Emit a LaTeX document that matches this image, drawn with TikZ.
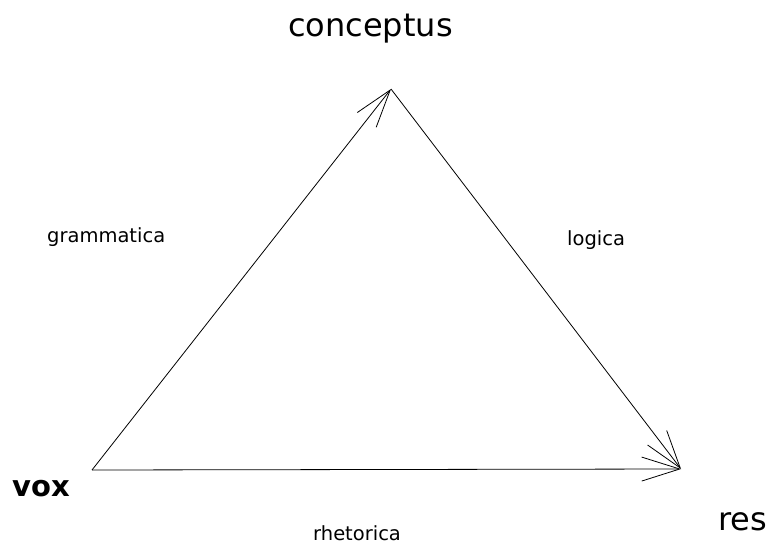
\documentclass[tikz,border=0pt]{standalone}
\usepackage{fontspec}
\setmainfont{DejaVu Sans}
\usetikzlibrary{arrows.meta}
\begin{document}
\begin{tikzpicture}[x=1pt,y=-1pt,
  big/.style={font=\fontsize{32}{36}\selectfont, inner sep=0pt, anchor=base west},
  small/.style={font=\fontsize{19.5}{22}\selectfont, inner sep=0pt, anchor=base west},
  edge/.style={line width=0.8pt, -{Straight Barb[length=38pt,width=24pt,line width=0.8pt]}}]
\useasboundingbox[fill=white] (0,0) rectangle (770,545);
\coordinate (V) at (92,470);
\coordinate (C) at (391,89);
\coordinate (R) at (681,469);
\node[big] (conceptus) at (288,37) {conceptus};
\node[big, font=\fontsize{29}{34}\selectfont\bfseries] (vox) at (12,496) {vox};
\node[big] (res) at (718,530) {res};
\node[small] (grammatica) at (47,242) {grammatica};
\node[small] (logica) at (567,245) {logica};
\node[small] (rhetorica) at (313,540) {rhetorica};
\draw[edge] (V) -- (C);
\draw[edge] (C) -- (R);
\draw[edge] (V) -- (R);
\end{tikzpicture}
\end{document}
